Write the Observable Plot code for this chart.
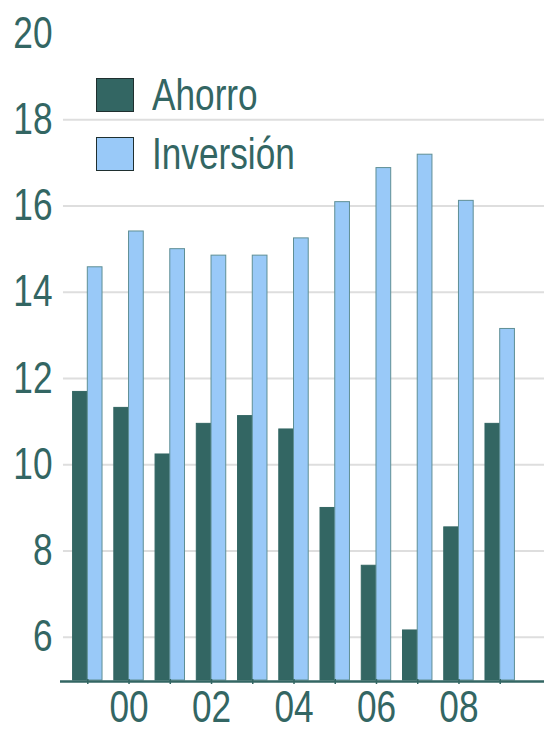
<!DOCTYPE html>
<html>
<head>
<meta charset="utf-8">
<script src="https://cdn.jsdelivr.net/npm/d3@7"></script>
<script src="https://cdn.jsdelivr.net/npm/@observablehq/plot@0.6"></script>
<style>
  html, body { margin: 0; padding: 0; background: #fff; }
  #wrap { position: relative; width: 544px; height: 731px; }
  .legend { position: absolute; left: 96px; top: 65px; font-family: "Liberation Sans Narrow", "Arial Narrow", "Liberation Sans", sans-serif; font-size: 44px; color: #336663; }
  .legend .row { display: flex; align-items: center; height: 59.5px; }
  .legend .sw { width: 38px; height: 34px; border: 1px solid #1f2f2f; margin-right: 18px; box-sizing: border-box; flex: none; }
  .legend .lab { display: inline-block; transform: scaleX(0.8); transform-origin: left center; white-space: nowrap; }
</style>
</head>
<body>
<div id="wrap"></div>
<script>
// Ahorro e inversión (% del PIB), 1999–2009
const years = [1999, 2000, 2001, 2002, 2003, 2004, 2005, 2006, 2007, 2008, 2009];
const ahorro = [11.69, 11.32, 10.24, 10.95, 11.13, 10.82, 9.0, 7.66, 6.16, 8.55, 10.95];
const inversion = [14.58, 15.41, 15.0, 14.85, 14.85, 15.25, 16.09, 16.88, 17.19, 16.12, 13.15];
const seriesNames = ["Ahorro", "Inversión"];
const seriesColors = ["#336663", "#99c9f8"];
const yTicks = [6, 8, 10, 12, 14, 16, 18, 20];
const gridTicks = [6, 8, 10, 12, 14, 16, 18];
const xLabelYears = [2000, 2002, 2004, 2006, 2008];

const ink = "#336663";
const font = '"Liberation Sans Narrow", "Arial Narrow", "Liberation Sans", sans-serif';
const half = 0.357; // share of a year slot taken by each bar

const rows = years.flatMap((yr, i) => [
  {year: yr, serie: seriesNames[0], value: ahorro[i], x1: yr - half, x2: yr},
  {year: yr, serie: seriesNames[1], value: inversion[i], x1: yr, x2: yr + half}
]);

const chart = Plot.plot({
  width: 544,
  height: 731,
  marginLeft: 60,
  marginRight: 0,
  marginTop: 33,
  marginBottom: 51,
  style: {fontFamily: font, color: ink, background: "#fff", overflow: "visible"},
  x: {domain: [1998.338, 2010.074], axis: null},
  y: {domain: [5, 20], axis: null},
  color: {domain: seriesNames, range: seriesColors},
  marks: [
    Plot.ruleY(gridTicks, {y: d => d, x1: 1998.41, x2: 2010.074, stroke: "#dedede", strokeWidth: 2}),
    Plot.rectY(rows, {
      x1: "x1", x2: "x2", y1: 5, y2: "value", fill: "serie",
      stroke: d => d.serie === "Ahorro" ? "#336663" : "#5f8f95", strokeWidth: 1
    }),
    Plot.ruleY([5], {x1: 1998.338, x2: 2010.074, stroke: ink, strokeWidth: 2.5, dy: 1}),
    Plot.ruleX(years, {x: d => d, y1: 5, y2: 5, dy: 0, insetTop: -1, insetBottom: -4, stroke: ink, strokeWidth: 1.5}),
    Plot.axisY(yTicks, {
      label: null, tickSize: 0, tickPadding: 8, fontSize: 44, fill: ink, tickFormat: d => String(d)
    }),
    Plot.axisX(xLabelYears, {
      label: null, tickSize: 0, tickPadding: 10, fontSize: 44, fill: ink,
      tickFormat: d => String(d).slice(2)
    })
  ]
});

const wrap = document.getElementById("wrap");
wrap.appendChild(chart);

// narrow the axis lettering to a condensed look
chart.querySelectorAll("text").forEach(t => {
  const w = t.getComputedTextLength();
  if (w > 0) {
    t.setAttribute("textLength", (w * 0.8).toFixed(1));
    t.setAttribute("lengthAdjust", "spacingAndGlyphs");
  }
});

const legend = document.createElement("div");
legend.className = "legend";
seriesNames.forEach((name, i) => {
  const row = document.createElement("div");
  row.className = "row";
  const sw = document.createElement("div");
  sw.className = "sw";
  sw.style.background = seriesColors[i];
  const label = document.createElement("span");
  label.className = "lab";
  label.textContent = name;
  row.appendChild(sw);
  row.appendChild(label);
  legend.appendChild(row);
});
wrap.appendChild(legend);
</script>
</body>
</html>
